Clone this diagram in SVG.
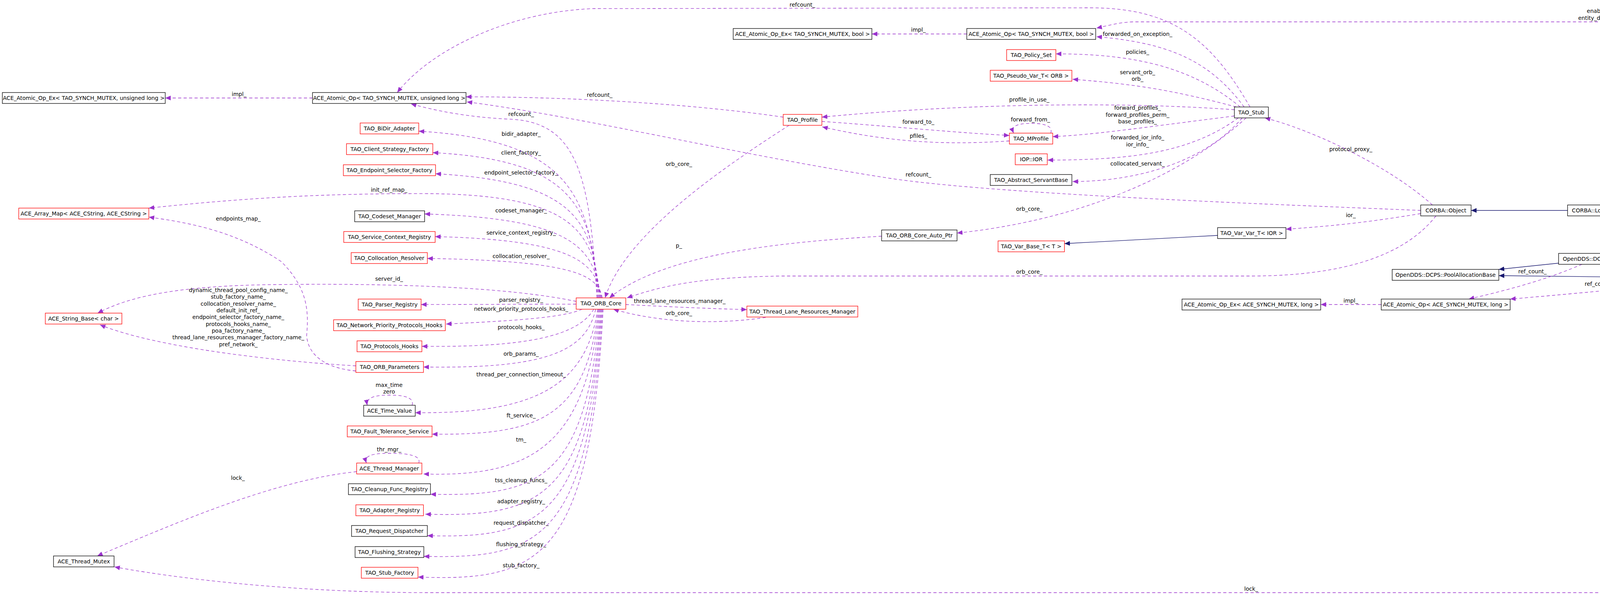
<svg xmlns="http://www.w3.org/2000/svg" width="5413" height="1524" viewBox="0 0 5413 1524">
<style>
text{font-family:"DejaVu Sans","Liberation Sans",sans-serif;font-size:14px;text-anchor:middle;fill:#000}
.n rect{fill:#fff;stroke:#000;stroke-width:1.3}
.r rect{stroke:#ff0000}
.g rect{fill:#bfbfbf}
.e path{fill:none;stroke:#9a32cd;stroke-width:1.3;stroke-dasharray:8,6;marker-end:url(#pa)}
.e path.i{stroke:#191970;stroke-dasharray:none;marker-end:url(#ba)}
</style>
<defs>
<marker id="pa" markerUnits="userSpaceOnUse" markerWidth="16" markerHeight="12" refX="14" refY="6" orient="auto"><path d="M0,0 L14,6 L0,12 z" fill="#9a32cd"/></marker>
<marker id="ba" markerUnits="userSpaceOnUse" markerWidth="16" markerHeight="12" refX="14" refY="6" orient="auto"><path d="M0,0 L14,6 L0,12 z" fill="#191970"/></marker>
</defs>
<rect width="5413" height="1524" fill="#fff"/>
<g class="e" id="edges">
<path d="M800,251 L423,251"/>
<path d="M1528,763 C1510,450 1480,310 1300,305 C1200,300 1120,285 1052,266"/>
<path d="M1530,763 C1510,510 1470,360 1072,336"/>
<path d="M1532,763 C1515,540 1480,410 1108,391"/>
<path d="M1534,763 C1518,570 1480,465 1115,445"/>
<path d="M1536,763 C1520,600 1480,500 1100,496 C800,495 600,510 381,533"/>
<path d="M1538,763 C1520,640 1480,560 1087,548"/>
<path d="M1540,763 C1525,680 1490,615 1114,606"/>
<path d="M1542,763 C1530,710 1490,668 1094,662"/>
<path d="M1475,772 C1300,735 1000,725 700,729 C450,732 330,760 250,802"/>
<path d="M1475,779 L1078,780"/>
<path d="M1490,792 C1440,815 1300,822 1142,830"/>
<path d="M1520,792 C1480,860 1350,890 1080,887"/>
<path d="M1525,792 C1500,900 1400,945 1084,940"/>
<path d="M1530,792 C1500,1000 1350,1060 1063,1057"/>
<path d="M1532,792 C1500,1070 1380,1115 1106,1112"/>
<path d="M1534,792 C1500,1150 1350,1222 1084,1214"/>
<path d="M1536,792 C1500,1230 1380,1272 1102,1266"/>
<path d="M1538,792 C1505,1280 1380,1325 1089,1317"/>
<path d="M1540,792 C1505,1330 1380,1380 1094,1372"/>
<path d="M1542,792 C1508,1385 1380,1432 1085,1425"/>
<path d="M1544,792 C1510,1435 1380,1490 1070,1478"/>
<path d="M911,950 C850,945 790,920 785,860 C790,800 790,740 720,670 C600,590 480,570 381,556"/>
<path d="M911,937 C700,925 400,890 256,832"/>
<path d="M1055,1038 C1060,1020 1040,1012 997,1012 C955,1012 937,1020 940,1038"/>
<path d="M1072,1186 C1078,1168 1050,1161 997,1161 C950,1161 932,1168 938,1186"/>
<path d="M913,1208 C700,1230 450,1340 249,1424"/>
<path d="M5298,590 C5280,700 5250,1000 5150,1300 C5080,1480 5000,1518 4864,1518 L1100,1518 C800,1518 500,1490 293,1452"/>
<path d="M3200,274 C3100,100 3000,20 2790,20 L1520,22 C1300,30 1100,130 1017,237"/>
<path d="M2005,300 C1800,270 1500,248 1193,248"/>
<path d="M3637,539 C3300,525 2600,500 2300,460 C1900,400 1500,300 1195,261"/>
<path d="M2020,321 C1850,430 1600,600 1549,763"/>
<path d="M2257,605 C2000,620 1700,650 1560,763"/>
<path d="M3676,553 C3600,650 3450,707 3200,707 L2000,707 C1800,710 1700,730 1605,763"/>
<path d="M3190,302 C3050,430 2800,560 2450,597"/>
<path d="M1602,780 C1700,785 1800,790 1912,793"/>
<path d="M1960,813 C1850,830 1700,830 1570,792"/>
<path d="M3185,274 C3100,160 3000,110 2807,94"/>
<path d="M5298,560 C5260,300 5100,56 4873,56 L2900,56 C2860,58 2840,65 2807,72"/>
<path d="M2475,87 L2232,87"/>
<path d="M3175,274 C3050,170 2900,138 2703,138"/>
<path d="M3165,274 C3000,230 2900,215 2746,203"/>
<path d="M3160,281 C2900,262 2500,262 2104,300"/>
<path d="M3160,297 C2900,330 2800,345 2695,350"/>
<path d="M2690,341 C2695,325 2680,316 2640,316 C2600,316 2588,325 2595,341"/>
<path d="M2104,311 C2300,325 2450,340 2584,347"/>
<path d="M2584,361 C2450,370 2300,370 2105,325"/>
<path d="M3170,302 C3050,390 2900,410 2682,410"/>
<path d="M3180,302 C3080,420 2900,465 2746,465"/>
<path class="i" d="M3117,603 L2725,624"/>
<path d="M3637,547 C3500,570 3400,580 3292,587"/>
<path d="M3667,525 C3550,420 3350,330 3238,302"/>
<path class="i" d="M4013,539 L3766,539"/>
<path class="i" d="M4342,552 L4176,543"/>
<path class="i" d="M4400,566 C4300,600 4200,630 4138,649"/>
<path class="i" d="M4366,620 L4173,649"/>
<path class="i" d="M3990,674 L3837,690"/>
<path class="i" d="M4358,712 L3837,706"/>
<path d="M4426,699 C4380,680 4300,668 4199,662"/>
<path d="M4162,677 C4250,695 4300,700 4358,705"/>
<path d="M4050,677 C3950,720 3850,745 3760,766"/>
<path d="M4358,723 C4150,740 4000,755 3866,766"/>
<path d="M3536,780 L3381,780"/>
<path class="i" d="M4756,538 L4525,506"/>
<path class="i" d="M4686,552 L4605,552"/>
<path class="i" d="M5194,569 L5027,562"/>
<path d="M5194,589 C5150,595 5100,598 5029,600"/>
<path d="M4684,605 L4599,605"/>
</g>
<g id="labels">
<text x="612" y="246">impl_</text>
<text x="2054" y="17">refcount_</text>
<text x="1535" y="248">refcount_</text>
<text x="1334" y="297">refcount_</text>
<text x="2351" y="452">refcount_</text>
<text x="1334" y="348">bidir_adapter_</text>
<text x="1334" y="396">client_factory_</text>
<text x="1334" y="447">endpoint_selector_factory_</text>
<text x="996" y="491">init_ref_map_</text>
<text x="1334" y="544">codeset_manager_</text>
<text x="1334" y="601">service_context_registry_</text>
<text x="1334" y="661">collocation_resolver_</text>
<text x="996" y="719">server_id_</text>
<text x="610" y="565">endpoints_map_</text>
<text x="610" y="748">dynamic_thread_pool_config_name_</text>
<text x="610" y="765">stub_factory_name_</text>
<text x="610" y="783">collocation_resolver_name_</text>
<text x="610" y="800">default_init_ref_</text>
<text x="610" y="817">endpoint_selector_factory_name_</text>
<text x="610" y="835">protocols_hooks_name_</text>
<text x="610" y="852">poa_factory_name_</text>
<text x="610" y="869">thread_lane_resources_manager_factory_name_</text>
<text x="610" y="887">pref_network_</text>
<text x="1334" y="773">parser_registry_</text>
<text x="1334" y="796">network_priority_protocols_hooks_</text>
<text x="1334" y="843">protocols_hooks_</text>
<text x="1334" y="911">orb_params_</text>
<text x="1334" y="964">thread_per_connection_timeout_</text>
<text x="1334" y="1069">ft_service_</text>
<text x="1334" y="1131">tm_</text>
<text x="1334" y="1235">tss_cleanup_funcs_</text>
<text x="1334" y="1289">adapter_registry_</text>
<text x="1334" y="1344">request_dispatcher_</text>
<text x="1334" y="1399">flushing_strategy_</text>
<text x="1334" y="1453">stub_factory_</text>
<text x="996" y="991">max_time</text>
<text x="996" y="1008">zero</text>
<text x="996" y="1156">thr_mgr_</text>
<text x="609" y="1229">lock_</text>
<text x="3203" y="1513">lock_</text>
<text x="1738" y="425">orb_core_</text>
<text x="1738" y="634">p_</text>
<text x="1740" y="776">thread_lane_resources_manager_</text>
<text x="1738" y="807">orb_core_</text>
<text x="2351" y="81">impl_</text>
<text x="2912" y="92">forwarded_on_exception_</text>
<text x="2912" y="138">policies_</text>
<text x="2912" y="190">servant_orb_</text>
<text x="2912" y="207">orb_</text>
<text x="2635" y="260">profile_in_use_</text>
<text x="2912" y="281">forward_profiles_</text>
<text x="2912" y="299">forward_profiles_perm_</text>
<text x="2912" y="316">base_profiles_</text>
<text x="2638" y="311">forward_from_</text>
<text x="2351" y="317">forward_to_</text>
<text x="2351" y="353">pfiles_</text>
<text x="2912" y="357">forwarded_ior_info_</text>
<text x="2912" y="375">ior_info_</text>
<text x="2912" y="424">collocated_servant_</text>
<text x="2635" y="540">orb_core_</text>
<text x="2635" y="701">orb_core_</text>
<text x="3458" y="387">protocol_proxy_</text>
<text x="3458" y="556">ior_</text>
<text x="4270" y="657">ptr_</text>
<text x="4270" y="685">weak_object_</text>
<text x="3923" y="700">ref_count_</text>
<text x="4093" y="732">ref_count_</text>
<text x="3458" y="775">impl_</text>
<text x="4094" y="33">enabled_</text>
<text x="4094" y="51">entity_deleted_</text>
<text x="5112" y="585">transport_config_</text>
<text x="4643" y="600">ptr_</text>
</g>
<g id="n1" class="n"><rect x="6" y="237" width="417" height="28"/><text x="214.5" y="256">ACE_Atomic_Op_Ex&lt; TAO_SYNCH_MUTEX, unsigned long &gt;</text></g>
<g id="n2" class="n"><rect x="800" y="237" width="393" height="28"/><text x="996.5" y="256">ACE_Atomic_Op&lt; TAO_SYNCH_MUTEX, unsigned long &gt;</text></g>
<g id="n3" class="n r"><rect x="922" y="315" width="150" height="28"/><text x="997" y="334">TAO_BiDir_Adapter</text></g>
<g id="n4" class="n r"><rect x="887" y="368" width="221" height="28"/><text x="997.5" y="387">TAO_Client_Strategy_Factory</text></g>
<g id="n5" class="n r"><rect x="879" y="422" width="236" height="28"/><text x="997" y="441">TAO_Endpoint_Selector_Factory</text></g>
<g id="n6" class="n r"><rect x="48" y="533" width="333" height="28"/><text x="214.5" y="552">ACE_Array_Map&lt; ACE_CString, ACE_CString &gt;</text></g>
<g id="n7" class="n"><rect x="908" y="540" width="179" height="28"/><text x="997.5" y="559">TAO_Codeset_Manager</text></g>
<g id="n8" class="n r"><rect x="880" y="593" width="234" height="28"/><text x="997" y="612">TAO_Service_Context_Registry</text></g>
<g id="n9" class="n r"><rect x="899" y="647" width="195" height="28"/><text x="996.5" y="666">TAO_Collocation_Resolver</text></g>
<g id="n10" class="n r"><rect x="917" y="766" width="161" height="28"/><text x="997.5" y="785">TAO_Parser_Registry</text></g>
<g id="n11" class="n r"><rect x="116" y="802" width="196" height="28"/><text x="214" y="821">ACE_String_Base&lt; char &gt;</text></g>
<g id="n12" class="n r"><rect x="854" y="819" width="286" height="28"/><text x="997" y="838">TAO_Network_Priority_Protocols_Hooks</text></g>
<g id="n13" class="n r"><rect x="914" y="873" width="166" height="28"/><text x="997" y="892">TAO_Protocols_Hooks</text></g>
<g id="n14" class="n r"><rect x="911" y="926" width="173" height="28"/><text x="997.5" y="945">TAO_ORB_Parameters</text></g>
<g id="n15" class="n"><rect x="931" y="1038" width="132" height="28"/><text x="997" y="1057">ACE_Time_Value</text></g>
<g id="n16" class="n r"><rect x="889" y="1091" width="217" height="28"/><text x="997.5" y="1110">TAO_Fault_Tolerance_Service</text></g>
<g id="n17" class="n r"><rect x="913" y="1186" width="167" height="28"/><text x="996.5" y="1205">ACE_Thread_Manager</text></g>
<g id="n18" class="n"><rect x="892" y="1239" width="210" height="28"/><text x="997" y="1258">TAO_Cleanup_Func_Registry</text></g>
<g id="n19" class="n r"><rect x="911" y="1293" width="173" height="28"/><text x="997.5" y="1312">TAO_Adapter_Registry</text></g>
<g id="n20" class="n"><rect x="900" y="1346" width="194" height="28"/><text x="997" y="1365">TAO_Request_Dispatcher</text></g>
<g id="n21" class="n"><rect x="909" y="1400" width="176" height="28"/><text x="997" y="1419">TAO_Flushing_Strategy</text></g>
<g id="n22" class="n r"><rect x="925" y="1453" width="145" height="28"/><text x="997.5" y="1472">TAO_Stub_Factory</text></g>
<g id="n23" class="n"><rect x="137" y="1424" width="155" height="28"/><text x="214.5" y="1443">ACE_Thread_Mutex</text></g>
<g id="n24" class="n r"><rect x="1475" y="763" width="127" height="29"/><text x="1538.5" y="782">TAO_ORB_Core</text></g>
<g id="n25" class="n r"><rect x="1912" y="784" width="284" height="28"/><text x="2054" y="803">TAO_Thread_Lane_Resources_Manager</text></g>
<g id="n26" class="n r"><rect x="2005" y="293" width="99" height="28"/><text x="2054.5" y="312">TAO_Profile</text></g>
<g id="n27" class="n"><rect x="1877" y="73" width="355" height="28"/><text x="2054.5" y="92">ACE_Atomic_Op_Ex&lt; TAO_SYNCH_MUTEX, bool &gt;</text></g>
<g id="n28" class="n"><rect x="2475" y="73" width="330" height="28"/><text x="2640" y="92">ACE_Atomic_Op&lt; TAO_SYNCH_MUTEX, bool &gt;</text></g>
<g id="n29" class="n r"><rect x="2577" y="127" width="126" height="28"/><text x="2640" y="146">TAO_Policy_Set</text></g>
<g id="n30" class="n r"><rect x="2535" y="180" width="209" height="28"/><text x="2639.5" y="199">TAO_Pseudo_Var_T&lt; ORB &gt;</text></g>
<g id="n31" class="n"><rect x="3160" y="274" width="87" height="28"/><text x="3203.5" y="293">TAO_Stub</text></g>
<g id="n32" class="n r"><rect x="2584" y="341" width="111" height="28"/><text x="2639.5" y="360">TAO_MProfile</text></g>
<g id="n33" class="n r"><rect x="2599" y="394" width="82" height="28"/><text x="2640" y="413">IOP::IOR</text></g>
<g id="n34" class="n"><rect x="2535" y="447" width="209" height="28"/><text x="2639.5" y="466">TAO_Abstract_ServantBase</text></g>
<g id="n35" class="n"><rect x="2257" y="589" width="193" height="28"/><text x="2353.5" y="608">TAO_ORB_Core_Auto_Ptr</text></g>
<g id="n36" class="n r"><rect x="2555" y="617" width="170" height="28"/><text x="2640" y="636">TAO_Var_Base_T&lt; T &gt;</text></g>
<g id="n37" class="n"><rect x="3117" y="583" width="175" height="28"/><text x="3204.5" y="602">TAO_Var_Var_T&lt; IOR &gt;</text></g>
<g id="n38" class="n"><rect x="3026" y="766" width="355" height="28"/><text x="3203.5" y="785">ACE_Atomic_Op_Ex&lt; ACE_SYNCH_MUTEX, long &gt;</text></g>
<g id="n39" class="n"><rect x="3637" y="525" width="129" height="28"/><text x="3701.5" y="544">CORBA::Object</text></g>
<g id="n40" class="n"><rect x="4013" y="525" width="163" height="28"/><text x="4094.5" y="544">CORBA::LocalObject</text></g>
<g id="n41" class="n"><rect x="4342" y="538" width="263" height="28"/><text x="4473.5" y="557">OpenDDS::DCPS::LocalObjectBase</text></g>
<g id="n42" class="n"><rect x="4347" y="591" width="252" height="28"/><text x="4473" y="610">OpenDDS::DCPS::TransportConfig</text></g>
<g id="n43" class="n"><rect x="3990" y="649" width="209" height="28"/><text x="4094.5" y="668">OpenDDS::DCPS::RcObject</text></g>
<g id="n44" class="n"><rect x="3564" y="690" width="273" height="28"/><text x="3700.5" y="709">OpenDDS::DCPS::PoolAllocationBase</text></g>
<g id="n45" class="n"><rect x="4358" y="699" width="231" height="28"/><text x="4473.5" y="718">OpenDDS::DCPS::WeakObject</text></g>
<g id="n46" class="n"><rect x="3536" y="766" width="330" height="28"/><text x="3701" y="785">ACE_Atomic_Op&lt; ACE_SYNCH_MUTEX, long &gt;</text></g>
<g id="n47" class="n"><rect x="4421" y="484" width="104" height="29"/><text x="4473" y="503">DDS::Entity</text></g>
<g id="n48" class="n"><rect x="4686" y="538" width="341" height="28"/><text x="4856.5" y="557">OpenDDS::DCPS::LocalObject&lt; DDS::Entity &gt;</text></g>
<g id="n49" class="n g"><rect x="5194" y="560" width="218" height="28"/><text x="5303" y="579">OpenDDS::DCPS::EntityImpl</text></g>
<g id="n50" class="n"><rect x="4684" y="591" width="345" height="28"/><text x="4856.5" y="610">OpenDDS::DCPS::RcHandle&lt; TransportConfig &gt;</text></g>
</svg>
